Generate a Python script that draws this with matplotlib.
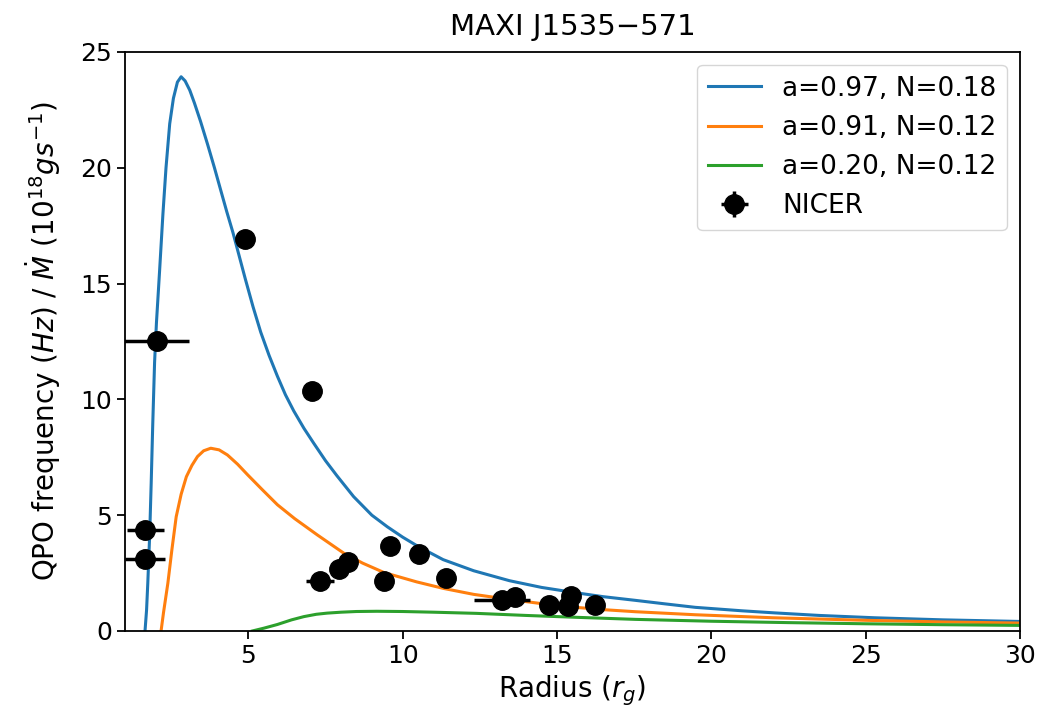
import numpy as np
import matplotlib
matplotlib.use('Agg')
import matplotlib.pyplot as plt

# model curves (radius in r_g, QPO freq / Mdot)
r_a097 = [1.65, 1.70, 1.74, 1.80, 1.85, 1.90, 1.96, 2.02, 2.12, 2.23, 2.33, 2.45, 2.57,
          2.70, 2.82, 2.95, 3.10, 3.25, 3.45, 3.68, 3.90, 4.11, 4.30, 4.50, 4.70, 4.90,
          5.15, 5.40, 5.67, 5.94, 6.20, 6.47, 6.80, 7.12, 7.50, 7.87, 8.41, 9.00, 9.50,
          10.0, 10.5, 11.31, 12.3, 13.46, 14.5, 15.61, 16.5, 17.55, 18.5, 19.48, 21.0,
          22.06, 23.5, 25.29, 27.5, 30.0]
f_a097 = [0.0, 0.9, 2.07, 4.1, 6.38, 8.9, 11.6, 13.3, 15.5, 18.0, 20.0, 21.9, 23.0,
          23.7, 23.93, 23.75, 23.35, 22.8, 22.0, 21.0, 20.0, 19.0, 18.1, 17.2, 16.2, 15.2,
          14.0, 12.9, 11.9, 11.0, 10.2, 9.5, 8.75, 8.10, 7.35, 6.7, 5.8, 5.0, 4.5,
          4.05, 3.65, 3.08, 2.6, 2.17, 1.88, 1.65, 1.48, 1.32, 1.17, 1.02, 0.87,
          0.78, 0.67, 0.57, 0.48, 0.41]

r_a091 = [2.17, 2.25, 2.39, 2.52, 2.66, 2.82, 2.99, 3.17, 3.35, 3.55, 3.78, 4.05, 4.32,
          4.65, 4.97, 5.45, 5.94, 6.50, 7.23, 8.09, 8.70, 9.40, 10.45, 11.31, 12.3, 13.46,
          14.5, 15.61, 16.5, 17.55, 19.48, 22.0, 25.0, 27.5, 30.0]
f_a091 = [0.0, 0.8, 2.06, 3.5, 4.93, 5.9, 6.66, 7.15, 7.53, 7.78, 7.89, 7.82, 7.6,
          7.2, 6.75, 6.1, 5.45, 4.85, 4.15, 3.36, 2.93, 2.52, 2.12, 1.84, 1.58, 1.36,
          1.18, 1.02, 0.92, 0.83, 0.7, 0.57, 0.46, 0.39, 0.34]

r_a020 = [5.13, 5.5, 5.94, 6.4, 6.8, 7.2, 7.55, 8.0, 8.5, 9.16, 10.0, 11.0, 12.39,
          14.0, 15.61, 17.55, 20.0, 22.5, 25.0, 27.5, 30.0]
f_a020 = [0.0, 0.12, 0.28, 0.48, 0.62, 0.72, 0.77, 0.81, 0.84, 0.85, 0.84, 0.81, 0.76,
          0.67, 0.59, 0.50, 0.42, 0.36, 0.31, 0.27, 0.24]

# NICER points
nicer_r = [4.9, 2.03, 7.06, 1.65, 1.65, 7.33, 7.93, 8.23, 9.59, 9.40, 10.54, 11.40,
           13.22, 13.65, 14.75, 15.35, 15.45, 16.23]
nicer_f = [16.93, 12.52, 10.36, 4.36, 3.10, 2.16, 2.66, 2.97, 3.67, 2.16, 3.31, 2.30,
           1.34, 1.46, 1.12, 1.09, 1.51, 1.12]
nicer_rerr = [0.05, 1.05, 0.05, 0.6, 0.65, 0.45, 0.05, 0.05, 0.05, 0.05, 0.05, 0.05,
              0.9, 0.05, 0.05, 0.05, 0.05, 0.05]
nicer_ferr = [0.05] * 18

fig = plt.figure(figsize=(10.37, 7.17), dpi=100)
ax = fig.add_axes([0.1205, 0.12, 0.863, 0.8075])

ax.plot(r_a097, f_a097, color='tab:blue', lw=2.2, label='a=0.97, N=0.18')
ax.plot(r_a091, f_a091, color='tab:orange', lw=2.2, label='a=0.91, N=0.12')
ax.plot(r_a020, f_a020, color='tab:green', lw=2.2, label='a=0.20, N=0.12')
ax.errorbar(nicer_r, nicer_f, xerr=nicer_rerr, yerr=nicer_ferr, fmt='o', color='black',
            ms=14, elinewidth=2.5, label='NICER', zorder=5)

ax.set_xlim(1, 30)
ax.set_ylim(0, 25)
ax.set_xticks([5, 10, 15, 20, 25, 30])
ax.set_yticks([0, 5, 10, 15, 20, 25])
ax.tick_params(labelsize=18, length=6, width=1.3)
for s in ax.spines.values():
    s.set_linewidth(1.3)

ax.set_xlabel(r'Radius $(r_g)$', fontsize=20)
ax.set_ylabel(r'QPO frequency $(Hz)$ / $\dot{M}$ $(10^{18} gs^{-1})$', fontsize=20,
              labelpad=12)
ax.set_title('MAXI J1535\u2212571', fontsize=21, pad=12)
ax.legend(loc='upper right', fontsize=19)

fig.savefig('out.png', dpi=100)
